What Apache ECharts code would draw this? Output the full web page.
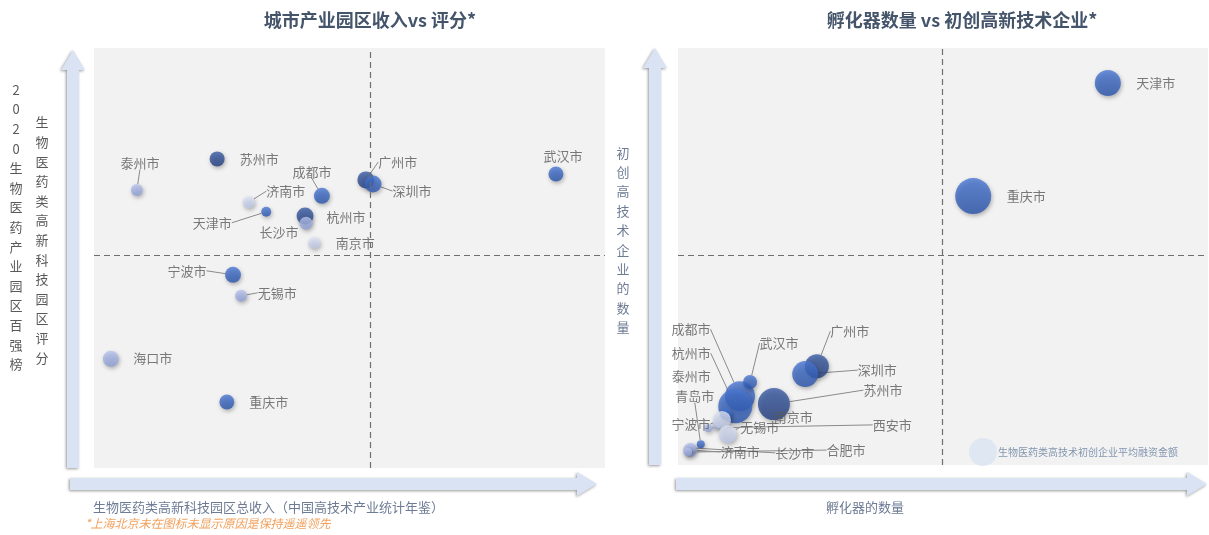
<!DOCTYPE html>
<html><head><meta charset="utf-8">
<script src="https://cdn.jsdelivr.net/npm/echarts@6/dist/echarts.min.js"></script>
<style>html,body{margin:0;padding:0;background:#fff}#c{width:1209px;height:535px}</style>
</head><body><div id="c"></div>
<script>
// ---------- LEFT CHART DATA: 城市产业园区收入 vs 评分 ----------
const leftCities  = ['泰州市','苏州市','济南市','天津市','成都市','杭州市','长沙市','南京市','广州市','深圳市','武汉市','宁波市','无锡市','海口市','重庆市'];
const leftRevenue = [8.4, 24.1, 30.3, 33.7, 44.6, 41.3, 41.5, 43.1, 53.2, 54.6, 90.4, 27.2, 28.8, 3.3, 26.0];
const leftScore   = [66.2, 73.6, 63.3, 61.0, 64.8, 60.0, 58.3, 53.6, 68.6, 67.6, 70.0, 46.0, 41.0, 26.0, 15.7];
const leftBubble  = [12, 15, 12, 10, 16, 17, 13, 12, 17, 17, 15, 16, 12, 16, 15];
const leftShade   = [2, 4, 1, 3, 3, 4, 2, 1, 4, 3, 3, 3, 2, 2, 3];
const leftMidX = 54.0, leftMidY = 50.7;

// ---------- RIGHT CHART DATA: 孵化器数量 vs 初创高新技术企业 ----------
const rightCities    = ['天津市','重庆市','广州市','深圳市','苏州市','成都市','杭州市','泰州市','武汉市','南京市','西安市','宁波市','无锡市','青岛市','济南市','长沙市','合肥市'];
const rightIncubator = [81.1, 55.7, 26.2, 24.0, 18.1, 11.7, 10.8, 9.1, 13.6, 7.2, 5.7, 8.3, 9.4, 4.3, 2.3, 2.6, 1.9];
const rightStartups  = [91.6, 64.5, 23.7, 21.8, 14.6, 16.5, 14.1, 12.2, 19.9, 9.4, 8.9, 10.8, 7.4, 5.0, 3.6, 4.1, 3.1];
const rightFunding   = [26, 36, 24, 26, 32, 30, 34, 12, 14, 8, 8, 18, 18, 8, 14, 8, 8];
const rightShade     = [3, 3, 4, 3, 4, 3, 3, 3, 3, 1, 2, 1, 1, 3, 2, 2, 2];
const rightMidX = 49.8, rightMidY = 50.4;

// ---------- label placement (style config, offsets from the mark) ----------
const leftLabelOffset = {
  '泰州市':[3,-27,1],'苏州市':[42,0,0],'济南市':[37,-11,1],'天津市':[-54,11,1],'成都市':[-10,-24,1],
  '杭州市':[41,1,0],'长沙市':[-27,9,0],'南京市':[41,0,0],'广州市':[32,-18,1],'深圳市':[39,7,1],
  '武汉市':[7,-18,0],'宁波市':[-46,-4,1],'无锡市':[36,-3,1],'海口市':[42,-1,0],'重庆市':[42,0,0]
};
const rightLabelOffset = {
  '天津市':[48,0,0],'重庆市':[53,0,0],'广州市':[33,-35,1],'深圳市':[72,-4,1],'苏州市':[109,-14,1],
  '成都市':[-49,-67,1],'杭州市':[-44,-53,1],'泰州市':[-35,-38,0],'武汉市':[29,-39,1],'南京市':[77,-9,0],
  '西安市':[184,-3,1],'宁波市':[-31,4,1],'无锡市':[32,-7,1],'青岛市':[-6,-48,1],'济南市':[50,2,1],
  '长沙市':[103,5,1],'合肥市':[158,-2,1]
};

const shadeColors = {
  1: ['#dfe5f5', '#bcc7e8'],
  2: ['#b8c4ec', '#8d9fd6'],
  3: ['#4a78d4', '#2a55ad'],
  4: ['#3a5ca6', '#243f80']
};
function shadeFill(level) {
  const c = shadeColors[level];
  return { type: 'linear', x: 0, y: 0, x2: 0, y2: 1, colorStops: [{offset: 0, color: c[0]}, {offset: 1, color: c[1]}] };
}

const leftData = leftCities.map((n, i) => ({
  name: n, value: [leftRevenue[i], leftScore[i], leftBubble[i], leftShade[i]],
  labelLine: { show: !!leftLabelOffset[n][2] }
}));
const rightData = rightCities.map((n, i) => ({
  name: n, value: [rightIncubator[i], rightStartups[i], rightFunding[i], rightShade[i]],
  labelLine: { show: !!rightLabelOffset[n][2] }
}));

const FONT = '"Noto Sans CJK SC", "Noto Sans", sans-serif';
const legendName = '生物医药类高技术初创企业平均融资金额';

function bubbleSeries(name, xi, data, offsets, midX, midY) {
  return {
    name: name, type: 'scatter', xAxisIndex: xi, yAxisIndex: xi,
    data: data,
    symbolSize: v => v[2],
    itemStyle: {
      color: p => shadeFill(p.value[3]),
      shadowBlur: 4, shadowColor: 'rgba(0,0,0,0.35)', shadowOffsetX: 1, shadowOffsetY: 2
    },
    label: { show: true, position: 'inside', formatter: '{b}', color: '#595959', fontSize: 13, fontFamily: FONT },
    labelLayout: p => { const o = offsets[data[p.dataIndex].name]; return { dx: o[0], dy: o[1] }; },
    labelLine: { show: false, lineStyle: { color: '#8a8a8a', width: 1 } },
    emphasis: { disabled: true },
    markLine: {
      silent: true, symbol: 'none', animation: false,
      label: { show: false },
      lineStyle: { color: '#6f6f6f', type: [6, 4], width: 1.2 },
      data: [{ xAxis: midX }, { yAxis: midY }]
    },
    z: 3
  };
}

const arrowStyle = { fill: '#dae3f3', shadowBlur: 3, shadowColor: 'rgba(0,0,0,0.4)', shadowOffsetX: -1, shadowOffsetY: 1 };
function upArrow(cx, top, bottom) {
  return { type: 'polygon', z: 1, shape: { points: [[cx, top], [cx + 12, top + 20], [cx + 6, top + 20], [cx + 6, bottom], [cx - 6, bottom], [cx - 6, top + 20], [cx - 12, top + 20]] }, style: arrowStyle };
}
function rightArrow(cy, left, right) {
  return { type: 'polygon', z: 1, shape: { points: [[right, cy], [right - 20, cy - 12], [right - 20, cy - 6], [left, cy - 6], [left, cy + 6], [right - 20, cy + 6], [right - 20, cy + 12]] }, style: arrowStyle };
}
function txt(text, x, y, opt) {
  return Object.assign({ type: 'text', z: 5, style: Object.assign({ text: text, x: x, y: y, fill: '#595959', font: '13px ' + FONT, align: 'left', verticalAlign: 'middle' }, opt || {}) });
}
const vert = s => Array.from(s).join('\n');

const chart = echarts.init(document.getElementById('c'), null, { renderer: 'canvas' });
const hiddenAxis = { show: false, min: 0, max: 100 };
chart.setOption({
  animation: false,
  backgroundColor: '#ffffff',
  grid: [
    { left: 94, top: 48, width: 511, height: 420, show: true, backgroundColor: '#f2f2f2', borderWidth: 0 },
    { left: 678, top: 48, width: 530, height: 417, show: true, backgroundColor: '#f2f2f2', borderWidth: 0 }
  ],
  xAxis: [Object.assign({ gridIndex: 0, type: 'value' }, hiddenAxis), Object.assign({ gridIndex: 1, type: 'value' }, hiddenAxis)],
  yAxis: [Object.assign({ gridIndex: 0, type: 'value' }, hiddenAxis), Object.assign({ gridIndex: 1, type: 'value' }, hiddenAxis)],
  legend: {
    left: 964, top: 433, itemWidth: 28, itemHeight: 28, itemGap: 0, selectedMode: false,
    data: [{ name: legendName, icon: 'circle', itemStyle: { color: '#dae3f3', shadowBlur: 0, borderWidth: 0 } }],
    textStyle: { fontSize: 10, color: '#8497b0', fontFamily: FONT, padding: [0, 0, 0, -4] }
  },
  series: [
    bubbleSeries('城市产业园区', 0, leftData, leftLabelOffset, leftMidX, leftMidY),
    bubbleSeries(legendName, 1, rightData, rightLabelOffset, rightMidX, rightMidY)
  ],
  graphic: [
    upArrow(73, 50, 468), rightArrow(484, 70, 597),
    upArrow(655, 48, 465), rightArrow(484, 676, 1207),
    txt('城市产业园区收入vs 评分*', 370, 20, { align: 'center', fill: '#44546a', font: 'bold 18px ' + FONT }),
    txt('孵化器数量 vs 初创高新技术企业*', 962, 20, { align: 'center', fill: '#44546a', font: 'bold 18px ' + FONT }),
    txt(vert('2020生物医药产业园区百强榜'), 16, 227, { align: 'center', lineHeight: 19.6 }),
    txt(vert('生物医药类高新科技园区评分'), 42, 240, { align: 'center', lineHeight: 19.6 }),
    txt(vert('初创高技术企业的数量'), 623, 240, { align: 'center', lineHeight: 19.4, fill: '#6d7b94' }),
    txt('生物医药类高新科技园区总收入（中国高技术产业统计年鉴）', 93, 507, { fill: '#6d7b94' }),
    txt('孵化器的数量', 865, 507, { align: 'center', fill: '#6d7b94' }),
    txt('*上海北京未在图标未显示原因是保持遥遥领先', 85, 523, { fill: '#f2a15f', font: 'italic 12px ' + FONT })
  ]
});
</script></body></html>
